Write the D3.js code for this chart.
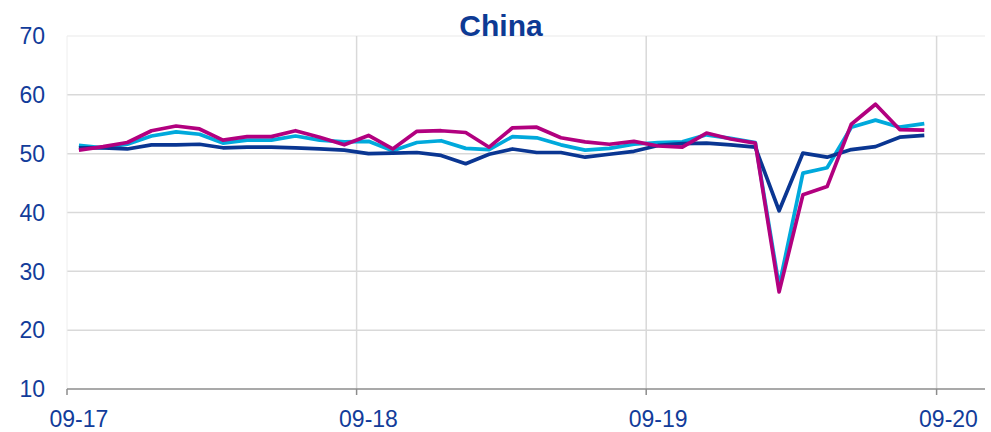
<!DOCTYPE html>
<html><head><meta charset="utf-8">
<script src="https://cdn.jsdelivr.net/npm/d3@7"></script>
<style>body{margin:0;background:#fff;} svg{display:block;font-family:"Liberation Sans",Arial,sans-serif;}</style>
</head><body><svg id="c" width="991" height="432"></svg>
<script>
// Monthly data Sep 2017 .. Aug 2020
const months = ["2017-09","2017-10","2017-11","2017-12","2018-01","2018-02","2018-03","2018-04","2018-05","2018-06","2018-07","2018-08","2018-09","2018-10","2018-11","2018-12","2019-01","2019-02","2019-03","2019-04","2019-05","2019-06","2019-07","2019-08","2019-09","2019-10","2019-11","2019-12","2020-01","2020-02","2020-03","2020-04","2020-05","2020-06","2020-07","2020-08"];
const manufacturing = [51.0,51.0,50.8,51.5,51.5,51.6,51.0,51.1,51.1,51.0,50.8,50.6,50.0,50.1,50.2,49.7,48.3,49.9,50.8,50.2,50.2,49.4,49.9,50.4,51.4,51.7,51.8,51.5,51.1,40.3,50.1,49.4,50.7,51.2,52.8,53.1];
const composite = [51.4,51.0,51.6,53.0,53.7,53.3,51.8,52.3,52.3,53.0,52.3,52.0,52.1,50.5,51.9,52.2,50.9,50.7,52.9,52.7,51.5,50.6,50.9,51.6,51.9,52.0,53.2,52.6,51.9,27.5,46.7,47.6,54.5,55.7,54.5,55.1];
const services = [50.6,51.2,51.9,53.9,54.7,54.2,52.3,52.9,52.9,53.9,52.8,51.5,53.1,50.8,53.8,53.9,53.6,51.1,54.4,54.5,52.7,52.0,51.6,52.1,51.3,51.1,53.5,52.5,51.8,26.5,43.0,44.4,55.0,58.4,54.1,54.0];
const yTicks = [10,20,30,40,50,60,70];
const xTickDates = ["2017-09","2018-09","2019-09","2020-09"];
const xTickLabels = ["09-17","09-18","09-19","09-20"];
const title = "China";

const parse = d3.timeParse("%Y-%m");
const svg = d3.select("#c");
const L = 67, R = 985, T = 36, B = 389;
const x = d3.scaleTime().domain([parse("2017-09"), parse("2020-11")]).range([L, R]);
const y = d3.scaleLinear().domain([10, 70]).range([B, T]);
const mid = d => { const t = parse(d); return new Date((+t + +d3.timeMonth.offset(t,1))/2); };

// horizontal grid
svg.append("g").selectAll("line").data(yTicks.filter(v => v > 10)).join("line")
  .attr("x1", L).attr("x2", R).attr("y1", d => y(d)).attr("y2", d => y(d))
  .attr("stroke", d => d === 70 ? "#f0f0f0" : "#d9d9d9").attr("stroke-width", 1.5);
// vertical grid
svg.append("g").selectAll("line").data(xTickDates.slice(1)).join("line")
  .attr("x1", d => x(parse(d))).attr("x2", d => x(parse(d))).attr("y1", T).attr("y2", B)
  .attr("stroke", "#d9d9d9").attr("stroke-width", 1.5);
// left axis faint line
svg.append("line").attr("x1", L).attr("x2", L).attr("y1", T).attr("y2", B).attr("stroke", "#eeeeee").attr("stroke-width", 1);

// x axis
svg.append("line").attr("x1", L).attr("x2", R).attr("y1", B).attr("y2", B).attr("stroke", "#8c8c8c").attr("stroke-width", 1.5);
svg.append("g").selectAll("line").data(xTickDates).join("line")
  .attr("x1", d => x(parse(d))).attr("x2", d => x(parse(d))).attr("y1", B).attr("y2", B + 6)
  .attr("stroke", "#8c8c8c").attr("stroke-width", 1.5);
svg.append("g").selectAll("text").data(xTickDates).join("text")
  .attr("x", d => x(mid(d))).attr("y", 427).attr("text-anchor", "middle")
  .attr("font-size", 23).attr("fill", "#123c9a").text((d, i) => xTickLabels[i]);

// y labels
svg.append("g").selectAll("text").data(yTicks).join("text")
  .attr("x", 45).attr("y", d => y(d)).attr("dy", "0.36em").attr("text-anchor", "end")
  .attr("font-size", 23).attr("fill", "#123c9a").text(d => d);

// lines
const line = vals => d3.line().x((d, i) => x(mid(months[i]))).y(d => y(d))(vals);
[[composite, "#00a9dc"], [manufacturing, "#0a3692"], [services, "#b2007f"]].forEach(([vals, c]) => {
  svg.append("path").attr("d", line(vals)).attr("fill", "none").attr("stroke", c)
    .attr("stroke-width", 3.7).attr("stroke-linejoin", "round");
});

svg.append("text").attr("x", 501).attr("y", 36).attr("text-anchor", "middle")
  .attr("font-size", 30).attr("font-weight", "bold").attr("fill", "#0d3a94").text(title);
</script></body></html>
